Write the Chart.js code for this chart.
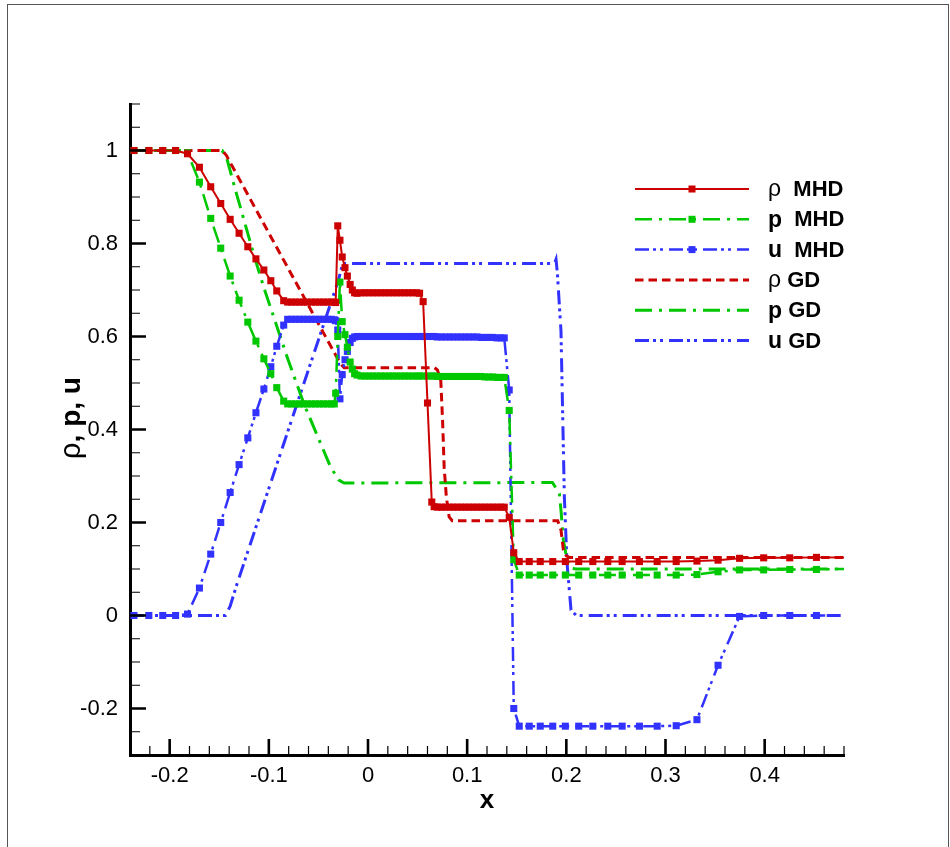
<!DOCTYPE html>
<html>
<head>
<meta charset="utf-8">
<script src="https://cdn.jsdelivr.net/npm/chart.js@4.4.1/dist/chart.umd.min.js"></script>
<style>
  body { margin: 0; background: #fff; }
  #frame { position: absolute; left: 7px; top: 4px; width: 940px; height: 900px; border: 1px solid #555; border-bottom: none; }
  #c { position: absolute; left: 0; top: 0; }
</style>
</head>
<body>
<div id="frame"></div>
<canvas id="c" width="950" height="847"></canvas>
<script>
// tick labels
const xTicks = [-0.2, -0.1, 0, 0.1, 0.2, 0.3, 0.4];
const yTicks = [-0.2, 0, 0.2, 0.4, 0.6, 0.8, 1];

const seriesLabels = ['ρ  MHD', 'p  MHD', 'u  MHD', 'ρ GD', 'p GD', 'u GD'];

// MHD run: shared grid (markers)
const xMHD = [
  -0.24, -0.236, -0.221, -0.207, -0.194, -0.182, -0.170, -0.1586, -0.1485, -0.139, -0.130, -0.1212, -0.113, -0.105, -0.098, -0.092, -0.085,
  -0.081, -0.077, -0.073, -0.069, -0.065, -0.061, -0.057, -0.053, -0.049, -0.045, -0.041, -0.037, -0.034,
  -0.0326, -0.0305, -0.0283, -0.026, -0.0232, -0.0208, -0.018, -0.0158, -0.0135, -0.011,
  -0.007, -0.003, 0.001, 0.005, 0.009, 0.013, 0.017, 0.021, 0.025, 0.029, 0.033, 0.037, 0.041, 0.045, 0.049, 0.052,
  0.0556, 0.060, 0.0643, 0.0667,
  0.070, 0.074, 0.078, 0.082, 0.086, 0.090, 0.094, 0.098, 0.102, 0.106, 0.110, 0.114, 0.118, 0.122, 0.126, 0.130, 0.134, 0.1374,
  0.1424, 0.147, 0.1525,
  0.1626, 0.1737, 0.1863, 0.199, 0.2125, 0.2267, 0.2418, 0.2563, 0.2737, 0.2916, 0.3108, 0.3317, 0.353, 0.3747, 0.399, 0.4253, 0.4522, 0.48
];
const rhoMHD = [
  1, 1, 1, 1, 1, 0.993, 0.964, 0.922, 0.886, 0.852, 0.822, 0.793, 0.767, 0.743, 0.720, 0.698, 0.677,
  0.674, 0.674, 0.674, 0.674, 0.674, 0.674, 0.674, 0.674, 0.674, 0.674, 0.674, 0.674, 0.674,
  0.673, 0.838, 0.807, 0.771, 0.748, 0.730, 0.712, 0.700, 0.694, 0.693,
  0.694, 0.694, 0.694, 0.694, 0.694, 0.694, 0.694, 0.694, 0.694, 0.694, 0.694, 0.694, 0.694, 0.694, 0.694, 0.693,
  0.675, 0.457, 0.244, 0.234,
  0.233, 0.233, 0.233, 0.233, 0.233, 0.233, 0.233, 0.233, 0.233, 0.233, 0.233, 0.233, 0.233, 0.233, 0.233, 0.233, 0.233, 0.233,
  0.211, 0.135, 0.116,
  0.116, 0.116, 0.116, 0.116, 0.116, 0.116, 0.116, 0.116, 0.116, 0.116, 0.116, 0.117, 0.119, 0.123, 0.124, 0.124, 0.125, 0.125
];
const pMHD = [
  1, 1, 1, 1, 1, 0.995, 0.932, 0.854, 0.790, 0.730, 0.678, 0.631, 0.590, 0.552, 0.520, 0.490, 0.461,
  0.455, 0.455, 0.455, 0.455, 0.455, 0.455, 0.455, 0.455, 0.455, 0.455, 0.455, 0.455, 0.455,
  0.478, 0.600, 0.717, 0.632, 0.604, 0.577, 0.545, 0.530, 0.520, 0.517,
  0.515, 0.515, 0.515, 0.515, 0.515, 0.515, 0.515, 0.515, 0.515, 0.515, 0.515, 0.515, 0.515, 0.515, 0.515, 0.515,
  0.515, 0.515, 0.515, 0.515,
  0.514, 0.514, 0.514, 0.514, 0.514, 0.514, 0.514, 0.514, 0.514, 0.514, 0.514, 0.514, 0.513, 0.513, 0.513, 0.512, 0.512, 0.512,
  0.441, 0.120, 0.087,
  0.087, 0.087, 0.087, 0.087, 0.087, 0.087, 0.087, 0.087, 0.087, 0.087, 0.087, 0.088, 0.094, 0.098, 0.098, 0.099, 0.099, 0.100
];
const uMHD = [
  0, 0, 0, 0, 0, 0.003, 0.059, 0.132, 0.200, 0.2645, 0.3245, 0.382, 0.436, 0.487, 0.535, 0.579, 0.6245,
  0.637, 0.637, 0.637, 0.637, 0.637, 0.637, 0.637, 0.637, 0.637, 0.637, 0.637, 0.637, 0.636,
  0.634, 0.614, 0.466, 0.518, 0.550, 0.568, 0.587, 0.596, 0.599, 0.600,
  0.600, 0.600, 0.600, 0.600, 0.600, 0.600, 0.600, 0.600, 0.600, 0.600, 0.600, 0.600, 0.600, 0.600, 0.600, 0.600,
  0.600, 0.600, 0.600, 0.600,
  0.599, 0.599, 0.599, 0.599, 0.599, 0.599, 0.599, 0.599, 0.599, 0.599, 0.599, 0.598, 0.598, 0.598, 0.598, 0.597, 0.597, 0.597,
  0.485, -0.200, -0.238,
  -0.238, -0.238, -0.238, -0.238, -0.238, -0.238, -0.238, -0.238, -0.238, -0.238, -0.237, -0.224, -0.107, -0.002, 0, 0, 0, 0
];

// gas dynamics run (lines only)
const xRhoGD = [-0.24, -0.147, -0.143, -0.028, -0.024, 0.067, 0.070, 0.0734, 0.0752, 0.0768, 0.079, 0.0818, 0.085, 0.1913, 0.1946, 0.197, 0.200, 0.203, 0.48];
const rhoGD  = [1, 1, 0.99, 0.542, 0.533, 0.533, 0.528, 0.505, 0.42, 0.319, 0.255, 0.212, 0.204, 0.204, 0.184, 0.141, 0.128, 0.125, 0.125];
const xPGD = [-0.24, -0.147, -0.142, -0.135, -0.125, -0.115, -0.105, -0.0814, -0.0646, -0.0377, -0.0293, -0.0242, 0.186, 0.193, 0.1946, 0.197, 0.2007, 0.2047, 0.21, 0.48];
const pGD  = [1, 1, 0.98, 0.925, 0.85, 0.775, 0.705, 0.555, 0.455, 0.319, 0.291, 0.285, 0.286, 0.262, 0.2266, 0.162, 0.119, 0.1016, 0.1, 0.1];
const xUGD = [-0.24, -0.1437, -0.139, -0.133, -0.0774, -0.03, -0.0255, 0.188, 0.1896, 0.191, 0.1946, 0.198, 0.2007, 0.2047, 0.21, 0.48];
const uGD  = [0, 0, 0.02, 0.062, 0.418, 0.72, 0.757, 0.757, 0.766, 0.735, 0.612, 0.255, 0.113, 0.012, 0, 0];

const RED = '#cc0000', GREEN = '#00c800', BLUE = '#3232ff';
const FONT = '"Liberation Sans", Arial, Helvetica, sans-serif';

function pts(xs, ys) { return xs.map((x, i) => ({ x: x, y: ys[i] })); }
const markerR = ctx => (ctx.dataIndex === 0 || ctx.dataIndex === xMHD.length - 1) ? 0 : 5;

const datasets = [
  { label: seriesLabels[0], data: pts(xMHD, rhoMHD), borderColor: RED, backgroundColor: RED, borderWidth: 2, borderDash: [], pointRadius: markerR, mhd: true },
  { label: seriesLabels[1], data: pts(xMHD, pMHD), borderColor: GREEN, backgroundColor: GREEN, borderWidth: 2.5, borderDash: [17, 7, 3, 7], pointRadius: markerR, mhd: true },
  { label: seriesLabels[2], data: pts(xMHD, uMHD), borderColor: BLUE, backgroundColor: BLUE, borderWidth: 2.5, borderDash: [14, 4, 3, 4, 3, 6], pointRadius: markerR, mhd: true },
  { label: seriesLabels[3], data: pts(xRhoGD, rhoGD), borderColor: RED, backgroundColor: RED, borderWidth: 3, borderDash: [8.5, 5], pointRadius: 0 },
  { label: seriesLabels[4], data: pts(xPGD, pGD), borderColor: GREEN, backgroundColor: GREEN, borderWidth: 3, borderDash: [17, 7, 3, 7], pointRadius: 0 },
  { label: seriesLabels[5], data: pts(xUGD, uGD), borderColor: BLUE, backgroundColor: BLUE, borderWidth: 3, borderDash: [14, 4, 3, 4, 3, 6], pointRadius: 0 }
];
datasets.forEach(d => { d.pointStyle = 'rect'; d.pointBorderWidth = 0; d.fill = false; d.tension = 0; });

// inward tick marks
const tickPlugin = {
  id: 'inTicks',
  afterDatasetsDraw(chart) {
    const ctx = chart.ctx, xs = chart.scales.x, ys = chart.scales.y, a = chart.chartArea;
    ctx.save();
    ctx.strokeStyle = '#000';
    ctx.lineWidth = 1.2;
    ctx.beginPath();
    for (let i = -11; i <= 24; i++) {
      if (i % 5 === 0) continue;
      const px = xs.getPixelForValue(i * 0.02);
      ctx.moveTo(px, a.bottom); ctx.lineTo(px, a.bottom - 9);
    }
    for (let i = -5; i <= 22; i++) {
      if (i % 4 === 0) continue;
      const py = ys.getPixelForValue(i * 0.05);
      ctx.moveTo(a.left, py); ctx.lineTo(a.left + 10, py);
    }
    ctx.stroke();
    ctx.lineWidth = 2.6;
    ctx.beginPath();
    xTicks.forEach(v => { const px = xs.getPixelForValue(v); ctx.moveTo(px, a.bottom); ctx.lineTo(px, a.bottom - 16); });
    yTicks.forEach(v => { const py = ys.getPixelForValue(v); ctx.moveTo(a.left, py); ctx.lineTo(a.left + 16, py); });
    ctx.stroke();
    ctx.restore();
  }
};

// legend, axis titles
function mixedText(ctx, first, rest, x, y, size) {
  ctx.font = (first === 'ρ' ? '' : 'bold ') + (size + 1) + 'px ' + FONT;
  ctx.fillText(first, x, y);
  const w = ctx.measureText(first).width;
  ctx.font = 'bold ' + size + 'px ' + FONT;
  ctx.fillText(rest, x + w, y);
  return w + ctx.measureText(rest).width;
}

const legendPlugin = {
  id: 'tecLegend',
  afterDraw(chart) {
    const ctx = chart.ctx;
    ctx.save();
    chart.data.datasets.forEach((d, i) => {
      const y = 189 + i * 30.3;
      ctx.strokeStyle = d.borderColor;
      ctx.lineWidth = d.borderWidth;
      ctx.setLineDash(d.borderDash);
      ctx.beginPath(); ctx.moveTo(635, y); ctx.lineTo(749, y); ctx.stroke();
      ctx.setLineDash([]);
      if (d.mhd) { ctx.fillStyle = d.borderColor; ctx.fillRect(692 - 3.5, y - 3.5, 7, 7); }
      ctx.fillStyle = '#000';
      ctx.textBaseline = 'middle';
      ctx.textAlign = 'left';
      mixedText(ctx, d.label[0], d.label.slice(1), 768, y + 1, 22);
    });
    // x title
    ctx.fillStyle = '#000';
    ctx.textAlign = 'center';
    ctx.textBaseline = 'middle';
    ctx.font = 'bold 26px ' + FONT;
    ctx.fillText('x', (chart.chartArea.left + chart.chartArea.right) / 2, 801);
    // y title
    ctx.translate(72, 418);
    ctx.rotate(-Math.PI / 2);
    ctx.textAlign = 'left';
    ctx.font = '29px ' + FONT;
    const w1 = ctx.measureText('ρ').width;
    ctx.font = 'bold 28px ' + FONT;
    const w2 = ctx.measureText(', p, u').width;
    mixedText(ctx, 'ρ', ', p, u', -(w1 + w2) / 2, 0, 28);
    ctx.restore();
  }
};

const fmt = v => (v === 0 ? '0' : String(v));

new Chart(document.getElementById('c'), {
  type: 'line',
  data: { datasets: datasets },
  options: {
    responsive: false,
    animation: false,
    layout: { padding: { left: 0, right: 106, top: 104, bottom: 0 } },
    plugins: { legend: { display: false }, tooltip: { enabled: false } },
    scales: {
      x: {
        type: 'linear', min: -0.24, max: 0.48,
        afterBuildTicks: s => { s.ticks = xTicks.map(v => ({ value: v })); },
        afterFit: s => { s.height = 92; },
        grid: { display: false, drawTicks: false },
        border: { display: true, width: 3, color: '#000' },
        ticks: { padding: 8, color: '#000', font: { family: FONT, size: 22 }, maxRotation: 0, autoSkip: false, callback: v => fmt(v) }
      },
      y: {
        type: 'linear', min: -0.3, max: 1.1,
        afterBuildTicks: s => { s.ticks = yTicks.map(v => ({ value: v })); },
        afterFit: s => { s.width = 130; },
        grid: { display: false, drawTicks: false },
        border: { display: true, width: 3, color: '#000' },
        ticks: { padding: 12, color: '#000', font: { family: FONT, size: 22 }, autoSkip: false, callback: v => fmt(v) }
      }
    }
  },
  plugins: [tickPlugin, legendPlugin]
});
</script>
</body>
</html>
